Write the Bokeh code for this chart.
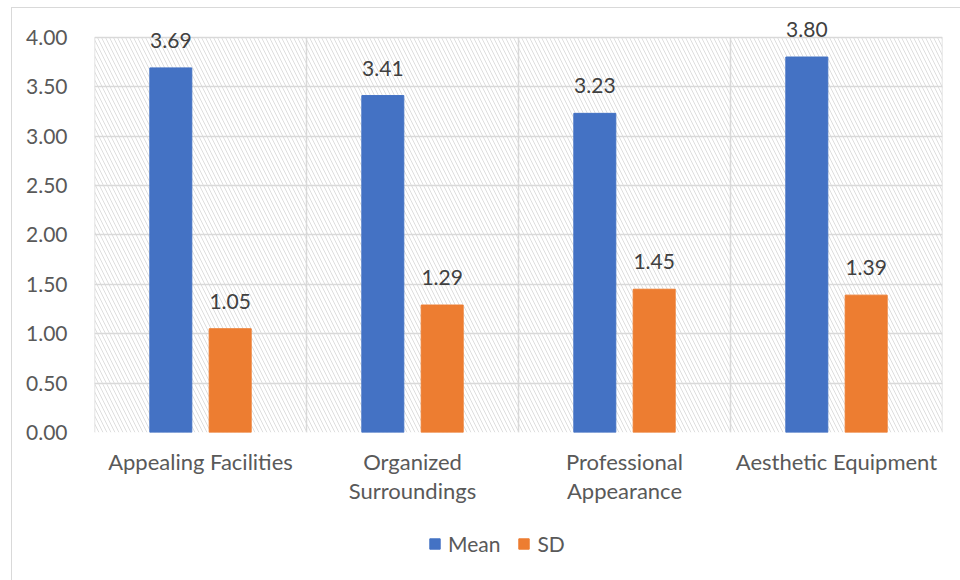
from bokeh.plotting import figure
from bokeh.layouts import column
from bokeh.models import (Range1d, FixedTicker, NumeralTickFormatter, Legend,
                          LegendItem, ColumnDataSource, LabelSet)
from bokeh.core.properties import value
from bokeh.embed import file_html
from bokeh.resources import INLINE

# Survey results: mean score and standard deviation per item
categories = ["Appealing Facilities", "Organized\nSurroundings",
              "Professional\nAppearance", "Aesthetic Equipment"]
mean_values = [3.69, 3.41, 3.23, 3.80]
sd_values = [1.05, 1.29, 1.45, 1.39]
y_ticks = [0.0, 0.5, 1.0, 1.5, 2.0, 2.5, 3.0, 3.5, 4.0]
y_max = 4.0

MEAN_COLOR = "#4472C4"
SD_COLOR = "#ED7D31"
GRID = "#d9d9d9"
TEXT = "#595959"
FONT = "Lato"

n = len(categories)
centers = [i + 0.5 for i in range(n)]
boundaries = list(range(n + 1))
offset = 0.14
bar_w = 0.198

mean_src = ColumnDataSource(dict(
    x=[c - offset for c in centers], top=mean_values,
    label=[f"{v:.2f}" for v in mean_values]))
sd_src = ColumnDataSource(dict(
    x=[c + offset for c in centers], top=sd_values,
    label=[f"{v:.2f}" for v in sd_values]))

# ---- main chart -----------------------------------------------------------
# a little headroom above 4.00 keeps the tallest value labels unclipped
p = figure(width=949, height=510, output_backend="svg", toolbar_location=None,
           x_range=Range1d(0, n), y_range=Range1d(0, 4.2),
           min_border_left=82, min_border_right=19, min_border_top=9,
           min_border_bottom=86)
p.outline_line_color = None
p.background_fill_color = "white"
p.border_fill_color = "white"
p.xgrid.visible = False

# hatched plot area
p.quad(left=[0], right=[n], bottom=[0], top=[y_max],
       fill_alpha=0, line_alpha=0, hatch_pattern="left_diagonal_line",
       hatch_color="#dedede", hatch_scale=8, hatch_weight=1, level="underlay")

# horizontal grid at each tick, vertical separators between categories
p.ygrid.ticker = FixedTicker(ticks=y_ticks)
p.ygrid.grid_line_color = GRID
p.ygrid.grid_line_width = 1.5
p.segment(x0=boundaries, y0=[0] * len(boundaries), x1=boundaries,
          y1=[y_max] * len(boundaries), line_color=GRID, line_width=1.5,
          level="underlay")

p.vbar(x="x", top="top", width=bar_w, source=mean_src, color=MEAN_COLOR)
p.vbar(x="x", top="top", width=bar_w, source=sd_src, color=SD_COLOR)

for src in (mean_src, sd_src):
    p.add_layout(LabelSet(x="x", y="top", text="label", source=src,
                          text_align="center", text_baseline="bottom",
                          y_offset=20, text_font=value(FONT),
                          text_font_size="21px", text_color="#404040"))

p.yaxis.ticker = FixedTicker(ticks=y_ticks)
p.yaxis.formatter = NumeralTickFormatter(format="0.00")
p.xaxis.ticker = FixedTicker(ticks=centers)
p.xaxis.major_label_overrides = {c: lab for c, lab in zip(centers, categories)}
for ax in (p.xaxis, p.yaxis):
    ax.axis_line_color = None
    ax.major_tick_line_color = None
    ax.minor_tick_line_color = None
    ax.major_label_text_font = FONT
    ax.major_label_text_color = TEXT
p.yaxis.major_label_text_font_size = "21px"
p.xaxis.major_label_text_font_size = "22px"
p.xaxis.major_label_text_line_height = 1.08
p.yaxis.major_label_standoff = 21
p.xaxis.major_label_standoff = 9

# ---- legend strip -----------------------------------------------------------
q = figure(width=949, height=63, output_backend="svg", toolbar_location=None,
           x_range=Range1d(0, 1), y_range=Range1d(0, 1),
           x_axis_type=None, y_axis_type=None,
           min_border_left=0, min_border_right=0, min_border_top=0,
           min_border_bottom=0)
q.outline_line_color = None
q.border_fill_color = "white"
q.background_fill_color = "white"
# hidden copies of the series, present only to supply the legend swatches
key_mean = q.vbar(x="x", top="top", width=bar_w, source=mean_src,
                  color=MEAN_COLOR, visible=False)
key_sd = q.vbar(x="x", top="top", width=bar_w, source=sd_src,
                color=SD_COLOR, visible=False)

legend = Legend(items=[LegendItem(label="Mean", renderers=[key_mean]),
                       LegendItem(label="SD", renderers=[key_sd])],
                orientation="horizontal", location=(334, 25),
                glyph_width=13, glyph_height=13, label_standoff=7, spacing=17,
                padding=0, margin=0, border_line_color=None,
                background_fill_alpha=0, inactive_fill_alpha=0,
                label_text_font=FONT, label_text_font_size="21px",
                label_text_color=TEXT)
q.add_layout(legend, "center")

chart = column(p, q, spacing=0, margin=(7, 0, 0, 11),
               styles={"border-left": "1px solid #d9d9d9",
                       "border-top": "1px solid #d9d9d9"})

open("out.html", "w").write(file_html(chart, INLINE))
